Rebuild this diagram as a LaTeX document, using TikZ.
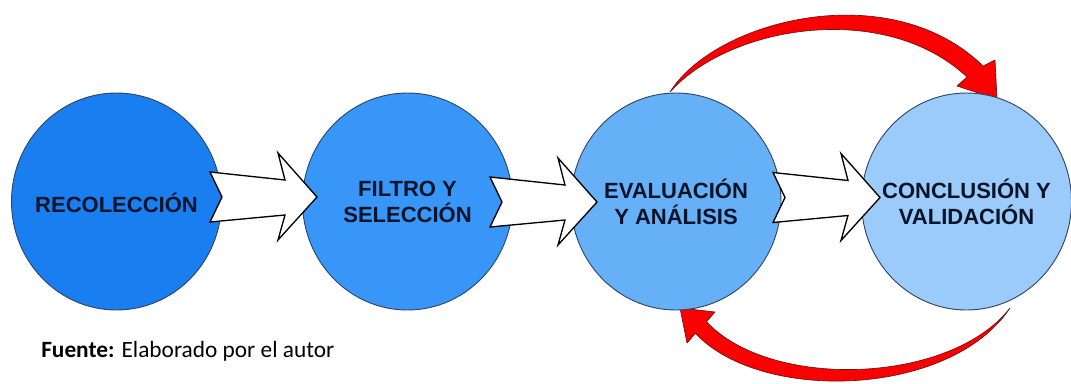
\documentclass[tikz,border=0pt]{standalone}
\usepackage{fontspec}
\setmainfont{Liberation Sans}
\newfontfamily\calib{Carlito}
\usetikzlibrary{shapes.geometric,calc}
\pgfdeclarelayer{background}
\pgfsetlayers{background,main}
\definecolor{cOne}{RGB}{25,127,240}
\definecolor{cTwo}{RGB}{55,150,248}
\definecolor{cThree}{RGB}{102,176,248}
\definecolor{cFour}{RGB}{155,203,250}
\definecolor{rimcol}{RGB}{50,70,100}
\definecolor{txtcol}{RGB}{10,20,40}
\definecolor{redfill}{RGB}{250,0,0}
\definecolor{redrim}{RGB}{110,20,20}
\begin{document}
\begin{tikzpicture}[x=0.75pt,y=-0.75pt,
  stage/.style={ellipse,draw=rimcol,line width=0.7pt,inner sep=0pt,
    minimum width=157.5pt,minimum height=162.75pt},
  stagetext/.style={align=center,text=txtcol,inner sep=0pt,
    font=\bfseries\fontsize{16.5}{19.5}\selectfont},
  blockstyle/.style={draw=black,fill=white,line width=1pt,line join=miter},
  redarrow/.style={draw=redrim,fill=redfill,line width=0.5pt,line join=round},
  blockarrow/.pic={\draw[blockstyle] (0,-25) -- (75,-17) -- (68,-44) -- (107,0)
     -- (68,43) -- (75,18) -- (0,25) -- (12,0) -- cycle;}]
\useasboundingbox (0,0) rectangle (1071,383);

\node[stage,fill=cOne]   (c1) at (116.5,201.5) {};
\node[stage,fill=cTwo]   (c2) at (407.5,201.5) {};
\node[stage,fill=cThree] (c3) at (676,201.5)   {};
\node[stage,fill=cFour]  (c4) at (966.5,201.5) {};

\pic at ($(c1.center)+(93.5,-4.5)$) {blockarrow};
\pic at ($(c2.center)+(82.5,0.5)$) {blockarrow};
\pic at ($(c3.center)+(97,-4)$) {blockarrow};

\node[stagetext] (t1) at ($(c1.center)+(0,1)$) {RECOLECCIÓN};
\node[stagetext] (t2) at ($(c2.center)+(0,0)$) {FILTRO Y\\SELECCIÓN};
\node[stagetext] (t3) at ($(c3.center)+(0,0)$) {EVALUACIÓN\\Y ANÁLISIS};
\node[stagetext] (t4) at ($(c4.center)+(0,0)$) {CONCLUSIÓN Y\\VALIDACIÓN};

\begin{pgfonlayer}{background}
% top curved arrow: c3 -> c4
\coordinate (ts) at ($(c3.center)+(-6,-109.5)$);
\coordinate (to) at ($(c4.center)+(16.5,-135.5)$);
\coordinate (tw1) at ($(c4.center)+(28.5,-141.5)$);
\coordinate (tt) at ($(c4.center)+(30.5,-102.5)$);
\coordinate (tw2) at ($(c4.center)+(-9.5,-115.5)$);
\coordinate (ti) at ($(c4.center)+(0.5,-124.5)$);
\draw[redarrow] (ts) .. controls (715,20) and (890,-25) .. (to)
  -- (tw1) -- (tt) -- (tw2) -- (ti)
  .. controls (885,0) and (730,25) .. (ts) -- cycle;
% bottom curved arrow: c4 -> c3
\coordinate (bs) at ($(c4.center)+(43.5,106.5)$);
\coordinate (bo) at ($(c3.center)+(19.5,131.8)$);
\coordinate (bw1) at ($(c3.center)+(11,141.5)$);
\coordinate (bt) at ($(c3.center)+(4,106.5)$);
\coordinate (bw2) at ($(c3.center)+(39,110.5)$);
\coordinate (bi) at ($(c3.center)+(30.5,120.2)$);
\draw[redarrow] (bs) .. controls (950,398) and (760,403) .. (bo)
  -- (bw1) -- (bt) -- (bw2) -- (bi)
  .. controls (770,390) and (950,385) .. (bs) -- cycle;
\end{pgfonlayer}

\node[anchor=base west,inner sep=0pt,text=black,font=\calib\fontsize{17.5}{20}\selectfont]
  (src) at (41,357) {\textbf{Fuente:} Elaborado por el autor};
\end{tikzpicture}
\end{document}
